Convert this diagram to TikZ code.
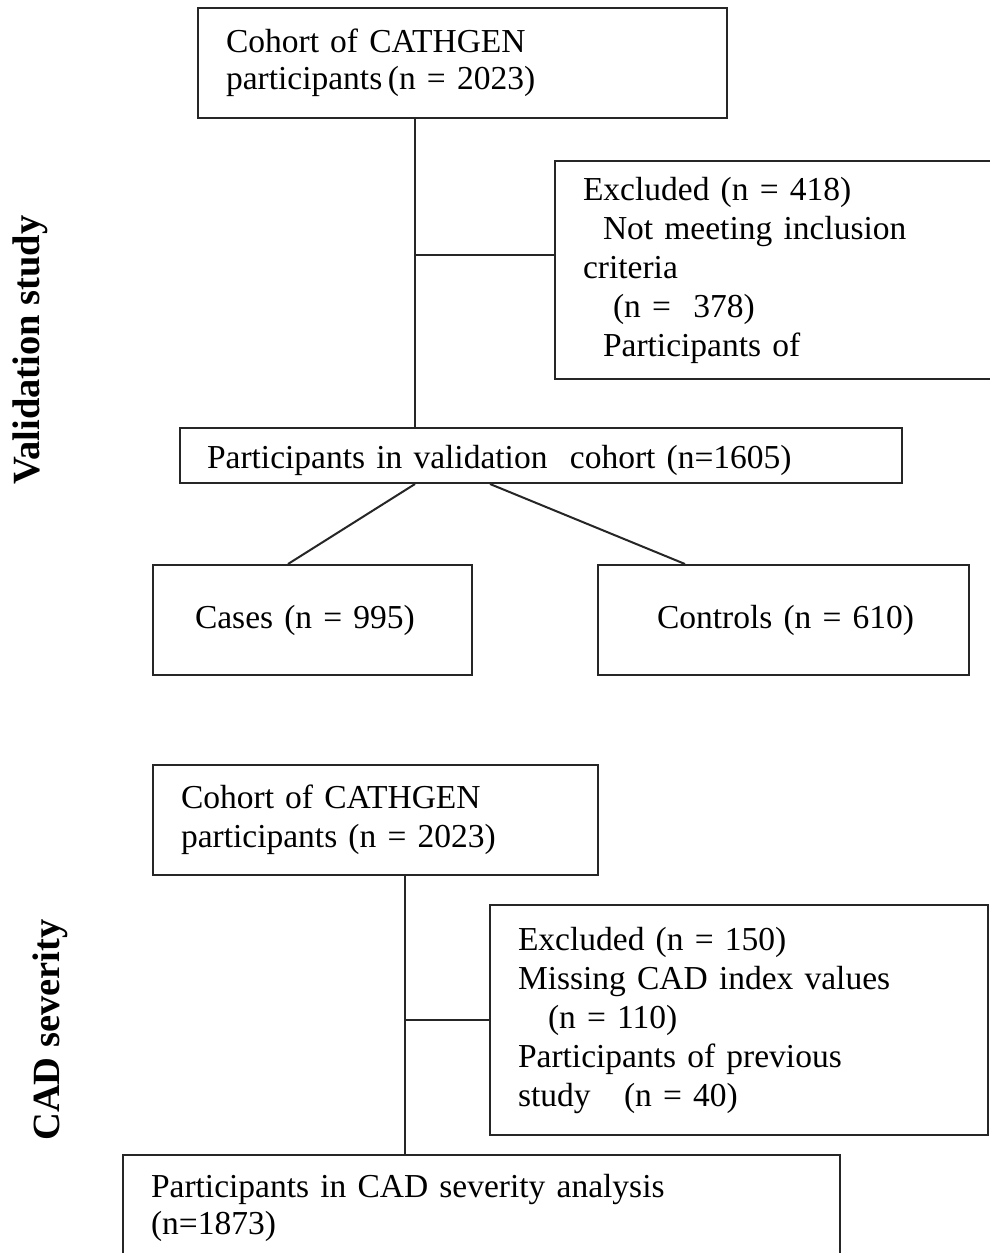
\documentclass[tikz,border=0pt]{standalone}
\usepackage{fontspec}
\setmainfont{Liberation Serif}
\usetikzlibrary{positioning}

\begin{document}
\begin{tikzpicture}[x=1pt,y=-1pt,line width=2pt,
  box/.style={draw=black!85,align=left,inner ysep=4pt,
              font=\fontsize{33.5}{39}\selectfont},
  side/.style={rotate=90,font=\fontsize{38.5}{40}\selectfont\bfseries},
  link/.style={draw=black!85}]
\path[use as bounding box,clip] (0,0) rectangle (990,1253);
\def\tA{415}\def\tB{405}
% validation study
\node[box,text width=473,inner xsep=28,minimum height=110](cA) at (462.5,63)
  {\raisebox{-2pt}[22pt][8pt]{Cohort of CATHGEN}\\participants\,(n = 2023)};
\node[box,text width=389,inner xsep=28,minimum height=218](exA) at (777.5,270)
  {Excluded (n = 418)\\\hspace*{20pt}Not meeting inclusion\\criteria\\
   \hspace*{30pt}(n =\ \ 378)\\\hspace*{20pt}Participants of};
\node[box,text width=668,inner xsep=27,minimum height=55](val) at (541,455.5)
  {\raisebox{-6pt}[20pt][6pt]{Participants in validation\ \ cohort (n=1605)}};
\node[box,text width=235,inner xsep=42,minimum height=110](cases) at (312.5,620)
  {Cases (n = 995)};
\node[box,text width=315,inner xsep=28,minimum height=110](ctrl) at (783.5,620)
  {\hspace*{31pt}Controls (n = 610)};
\coordinate (jA) at (\tA,255);
\coordinate (sL) at (415,0); \coordinate (eL) at (288,0);
\coordinate (sR) at (490,0); \coordinate (eR) at (685,0);
\draw[link](jA |- cA.south)--(jA |- val.north);
\draw[link](jA)--(jA -| exA.west);
\draw[link](sL |- val.south)--(eL |- cases.north);
\draw[link](sR |- val.south)--(eR |- ctrl.north);
\node[side](lbA) at (30,350){Validation study};
% CAD severity
\node[box,text width=389,inner xsep=28,minimum height=110](cB) at (375.5,820)
  {Cohort of CATHGEN\\participants (n = 2023)};
\node[box,text width=442,inner xsep=28,minimum height=230](exB) at (739,1020)
  {Excluded (n = 150)\\Missing CAD index values\\\hspace*{30pt}(n = 110)\\
   Participants of previous\\study\ \ \ (n = 40)};
\node[box,text width=661,inner xsep=28,minimum height=105](sev) at (481.5,1207.5)
  {\raisebox{-2pt}[22pt][8pt]{Participants in CAD severity analysis}\\(n=1873)};
\coordinate (jB) at (\tB,1020);
\draw[link](jB |- cB.south)--(jB |- sev.north);
\draw[link](jB)--(jB -| exB.west);
\node[side](lbB) at (50,1030){CAD severity};
\end{tikzpicture}
\end{document}
